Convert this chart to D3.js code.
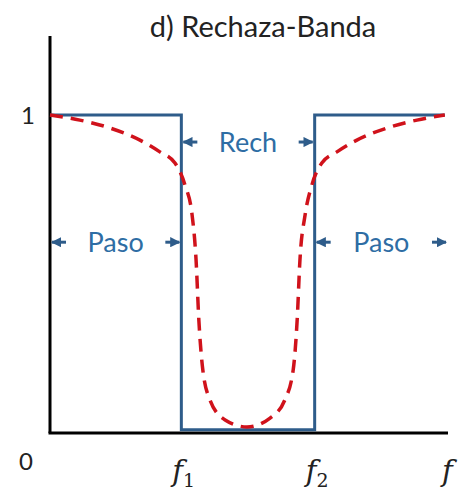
<!DOCTYPE html>
<html>
<head>
<meta charset="utf-8">
<script src="https://cdn.jsdelivr.net/npm/d3@7"></script>
<style>
  body { margin: 0; background: #fff; }
  svg text { font-family: Lato, "Open Sans", sans-serif; }
</style>
</head>
<body>
<div id="chart"></div>
<script>
// ideal band-reject response (step) and a real one (dashed)
var f1 = 3.3, f2 = 6.65;
var idealX = [0, f1, f1, f2, f2, 9.92];
var idealY = [1, 1, 0.01, 0.01, 1, 1];

var realX = [0, 0.75, 1.51, 2.26, 2.76, 3.14, 3.39, 3.57, 3.67, 3.74, 3.84, 4.02, 4.40, 4.95,
             5.53, 5.90, 6.11, 6.21, 6.28, 6.41, 6.58, 6.83, 7.21, 7.71, 8.47, 9.22, 9.92];
var realY = [1.0, 0.984, 0.959, 0.921, 0.884, 0.849, 0.78, 0.686, 0.544, 0.355, 0.198, 0.104, 0.041, 0.019,
             0.047, 0.104, 0.198, 0.355, 0.544, 0.686, 0.78, 0.849, 0.884, 0.921, 0.959, 0.984, 1.0];

var xTicks = [{v: f1, sub: "1"}, {v: f2, sub: "2"}, {v: 10, sub: ""}];
var yTicks = [1];

// band labels: text, x position, y level, arrow ends
var bands = [
  {text: "Paso", x0: 0, x1: f1, y: 0.6},
  {text: "Rech", x0: f1, x1: f2, y: 0.915},
  {text: "Paso", x0: f2, x1: 10, y: 0.6}
];

var width = 458, height = 490;
var blue = "#2e5c8a", red = "#d0121b", textBlue = "#2e6da4";

var svg = d3.select("#chart").append("svg")
    .attr("width", width)
    .attr("height", height);

var x = d3.scaleLinear().domain([0, 10]).range([50, 448]);
var y = d3.scaleLinear().domain([0, 1]).range([433, 115]);

svg.append("text")
    .attr("x", 263).attr("y", 37)
    .attr("text-anchor", "middle")
    .attr("font-size", 29)
    .attr("fill", "#222")
    .text("d) Rechaza-Banda");

// axes drawn as plain lines
svg.append("line")
    .attr("x1", x(0)).attr("x2", x(0))
    .attr("y1", 36).attr("y2", y(0))
    .attr("stroke", "#000").attr("stroke-width", 3);
svg.append("line")
    .attr("x1", x(0) - 1.5).attr("x2", x(10))
    .attr("y1", y(0)).attr("y2", y(0))
    .attr("stroke", "#000").attr("stroke-width", 3);

svg.selectAll(".ytick").data(yTicks).enter().append("text")
    .attr("class", "ytick")
    .attr("x", 28).attr("y", function(d){ return y(d) + 9; })
    .attr("text-anchor", "middle")
    .attr("font-size", 24)
    .attr("fill", "#222")
    .text(function(d){ return d; });

svg.append("text")
    .attr("x", 26).attr("y", 470)
    .attr("text-anchor", "middle")
    .attr("font-size", 24)
    .attr("fill", "#222")
    .text("0");

var xt = svg.selectAll(".xtick").data(xTicks).enter().append("text")
    .attr("class", "xtick")
    .attr("x", function(d){ return x(d.v) - (d.sub ? 9 : 6); })
    .attr("y", 481)
    .attr("fill", "#222");
xt.append("tspan")
    .attr("font-family", "'DejaVu Serif', serif")
    .attr("font-style", "italic")
    .attr("font-size", 29)
    .text("f");
xt.append("tspan")
    .attr("font-family", "'DejaVu Serif', serif")
    .attr("font-size", 19)
    .attr("dy", 6)
    .text(function(d){ return d.sub; });

// ideal step
var stepLine = d3.line()
    .x(function(d){ return x(d[0]); })
    .y(function(d){ return y(d[1]); });
svg.append("path")
    .datum(d3.zip(idealX, idealY))
    .attr("d", stepLine)
    .attr("fill", "none")
    .attr("stroke", blue)
    .attr("stroke-width", 3);

// real response
var curve = d3.line()
    .x(function(d){ return x(d[0]); })
    .y(function(d){ return y(d[1]); })
    .curve(d3.curveMonotoneX);
svg.append("path")
    .datum(d3.zip(realX, realY))
    .attr("d", curve)
    .attr("fill", "none")
    .attr("stroke", red)
    .attr("stroke-width", 3.5)
    .attr("stroke-dasharray", "13,8");

// arrowheads
var defs = svg.append("defs");
defs.append("marker")
    .attr("id", "head")
    .attr("viewBox", "0 0 10 10")
    .attr("refX", 9).attr("refY", 5)
    .attr("markerWidth", 3.4).attr("markerHeight", 3.4)
    .attr("orient", "auto")
  .append("path")
    .attr("d", "M0,0L10,5L0,10z")
    .attr("fill", blue);

bands.forEach(function(b){
  var a = x(b.x0) + 2, c = x(b.x1) - 2, yy = y(b.y);
  var mid = (x(b.x0) + x(b.x1)) / 2;
  svg.append("line")
      .attr("x1", a + 14).attr("x2", a)
      .attr("y1", yy).attr("y2", yy)
      .attr("stroke", blue).attr("stroke-width", 3)
      .attr("marker-end", "url(#head)");
  svg.append("line")
      .attr("x1", c - 14).attr("x2", c)
      .attr("y1", yy).attr("y2", yy)
      .attr("stroke", blue).attr("stroke-width", 3)
      .attr("marker-end", "url(#head)");
  svg.append("text")
      .attr("x", mid).attr("y", yy + 10)
      .attr("text-anchor", "middle")
      .attr("font-size", 27)
      .attr("fill", textBlue)
      .text(b.text);
});
</script>
</body>
</html>
